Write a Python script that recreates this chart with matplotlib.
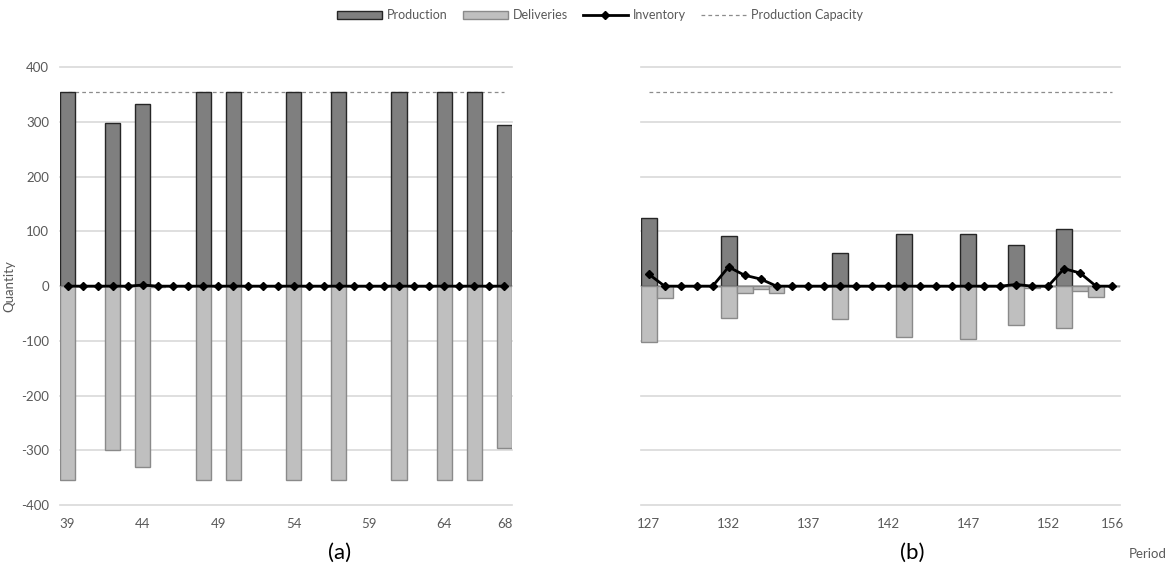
import numpy as np
import matplotlib
matplotlib.use("Agg")
import matplotlib.pyplot as plt
from matplotlib.patches import Patch
from matplotlib.lines import Line2D

plt.rcParams['font.family'] = ['Lato', 'DejaVu Sans']

# ---------------- data ----------------
periods_a = [39, 40, 41, 42, 43, 44, 45, 46, 47, 48, 49, 50, 51, 52, 53,
             54, 55, 56, 57, 58, 59, 60, 61, 62, 63, 64, 65, 66, 67, 68]
production_a = [355, 0, 0, 299, 0, 333, 0, 0, 0, 355, 0, 355, 0, 0, 0,
                355, 0, 0, 355, 0, 0, 0, 355, 0, 0, 355, 0, 355, 0, 295]
deliveries_a = [-355, 0, 0, -299, 0, -331, -2, 0, 0, -355, 0, -355, 0, 0, 0,
                -355, 0, 0, -355, 0, 0, 0, -355, 0, 0, -355, 0, -355, 0, -295]
inventory_a = [0, 0, 0, 0, 0, 2, 0, 0, 0, 0, 0, 0, 0, 0, 0,
               0, 0, 0, 0, 0, 0, 0, 0, 0, 0, 0, 0, 0, 0, 0]
ticks_a = [39, 44, 49, 54, 59, 64, 68]

periods_b = [127, 128, 129, 130, 131, 132, 133, 134, 135, 136, 137, 138, 139, 140, 141,
             142, 143, 144, 145, 146, 147, 148, 149, 150, 151, 152, 153, 154, 155, 156]
production_b = [124, 0, 0, 0, 0, 91, 0, 0, 0, 0, 0, 0, 60, 0, 0,
                0, 95, 0, 0, 0, 95, 0, 0, 75, 0, 0, 104, 0, 0, 0]
deliveries_b = [-102, -22, 0, 0, 0, -58, -13, -6, -12, 0, 0, 0, -60, 0, 0,
                0, -93, 0, 0, 0, -96, 0, 0, -71, -3, 0, -76, -9, -20, 0]
inventory_b = [22, 0, 0, 0, 0, 35, 20, 13, 0, 0, 0, 0, 0, 0, 0,
               0, 0, 0, 0, 0, 0, 0, 0, 3, 0, 0, 32, 24, 0, 0]
ticks_b = [127, 132, 137, 142, 147, 152, 156]

capacity = 355

# ---------------- styling ----------------
PROD_FC = '#7f7f7f'
PROD_EC = '#262626'
DEL_FC = '#bfbfbf'
DEL_EC = '#8a8a8a'
GRID = '#d9d9d9'
TXT = '#595959'

fig = plt.figure(figsize=(11.67, 5.77), dpi=100)
ax_a = fig.add_axes([60 / 1167, 72 / 577, 452 / 1167, 437.7 / 577])
ax_b = fig.add_axes([640.7 / 1167, 72 / 577, 479.3 / 1167, 437.7 / 577])


def draw(ax, periods, prod, deli, inv, ticks, show_y):
    x = np.arange(len(periods))
    for yv in range(-400, 401, 100):
        ax.axhline(yv, color=GRID, lw=1.2, zorder=0, clip_on=False)
    ax.plot([x[0], x[-1]], [capacity, capacity], ls=(0, (3, 2.5)), color='#8c8c8c',
            lw=0.9, zorder=1)
    ax.bar(x, prod, width=1.0, color=PROD_FC, edgecolor=PROD_EC, linewidth=1.0, zorder=2)
    ax.bar(x, deli, width=1.0, color=DEL_FC, edgecolor=DEL_EC, linewidth=1.0, zorder=2)
    ax.plot(x, inv, color='black', lw=2.0, marker='D', markersize=4.5, zorder=4)
    ax.set_xlim(-0.5, len(periods) - 0.5)
    ax.set_ylim(-400, 400)
    for s in ax.spines.values():
        s.set_visible(False)
    tpos = [periods.index(t) for t in ticks]
    ax.set_xticks(tpos)
    ax.set_xticklabels([str(t) for t in ticks], color=TXT, fontsize=9.5)
    ax.tick_params(axis='x', length=0, pad=9)
    if show_y:
        ax.set_yticks(range(-400, 401, 100))
        ax.set_yticklabels([str(v) for v in range(-400, 401, 100)], color=TXT, fontsize=9.5)
        ax.tick_params(axis='y', length=0, pad=8)
        ax.set_ylabel('Quantity', color=TXT, fontsize=9.5)
        ax.yaxis.set_label_coords(-45 / 452, 0.5)
    else:
        ax.set_yticks([])


draw(ax_a, periods_a, production_a, deliveries_a, inventory_a, ticks_a, True)
draw(ax_b, periods_b, production_b, deliveries_b, inventory_b, ticks_b, False)

fig.text(340 / 1167, 1 - 553 / 577, '(a)', fontsize=16, ha='center', va='center', color='black')
fig.text(912 / 1167, 1 - 553 / 577, '(b)', fontsize=16, ha='center', va='center', color='black')
fig.text(1148 / 1167, 1 - 554 / 577, 'Period', fontsize=9.5, ha='center', va='center', color=TXT)

handles = [
    Patch(facecolor=PROD_FC, edgecolor=PROD_EC, linewidth=1.0, label='Production'),
    Patch(facecolor=DEL_FC, edgecolor=DEL_EC, linewidth=1.0, label='Deliveries'),
    Line2D([0], [0], color='black', lw=2.0, marker='D', markersize=4.5, label='Inventory'),
    Line2D([0], [0], color='#8c8c8c', lw=0.9, ls=(0, (3, 2.5)), label='Production Capacity'),
]
leg = fig.legend(handles=handles, loc='center', bbox_to_anchor=(600 / 1167, 1 - 15 / 577),
                 ncol=4, frameon=False, fontsize=9, handlelength=3.6, handleheight=0.6,
                 columnspacing=1.2, handletextpad=0.4)
for t in leg.get_texts():
    t.set_color(TXT)

fig.savefig('out.png', dpi=100)
